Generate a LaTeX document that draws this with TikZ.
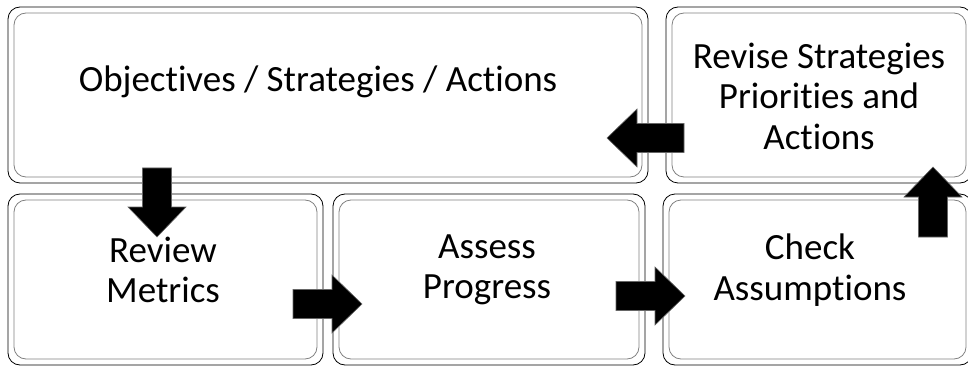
\documentclass[tikz,border=0pt]{standalone}
\usepackage{fontspec}
\setmainfont{Carlito}[Ligatures=NoCommon]

\tikzset{
  stage/.style={draw, line width=0.8pt, rounded corners=12pt, outer sep=0pt, inner sep=0pt,
    path picture={\draw[gray, line width=0.8pt]
      ([xshift=6pt,yshift=-6pt]path picture bounding box.north west) rectangle
      ([xshift=-6pt,yshift=6pt]path picture bounding box.south east);}},
  stagetext/.style={font=\fontsize{37}{40.5}\selectfont, align=center, inner sep=0pt},
  pics/fatarrow/.style={code={
    \fill[black, draw=black!60, line width=0.6pt]
      (0,-14.5) -- ({#1-30},-14.5) -- ({#1-30},-29) -- (#1,0) --
      ({#1-30},29) -- ({#1-30},14.5) -- (0,14.5) -- cycle;}},
}

\begin{document}
\begin{tikzpicture}[x=1pt, y=-1pt]
    \useasboundingbox (0,0) rectangle (968,366);
    \clip (0,0) rectangle (968,366);

    % 1. BOXES
    \node[stage, minimum width=640pt, minimum height=176pt] (objectives) at (328,95) {};
    \node[stage, minimum width=306pt, minimum height=176pt] (revise) at (819,95) {};
    \node[stage, minimum width=315pt, minimum height=171pt] (review) at (165.5,279.5) {};
    \node[stage, minimum width=312pt, minimum height=171pt] (assess) at (489,279.5) {};
    \node[stage, minimum width=309pt, minimum height=171pt] (check) at (817.5,279.5) {};

    % 2. TEXTS
    \node[stagetext] (objtext) at (318,82) {Objectives / Strategies / Actions};
    \node[stagetext] (revtext) at (819,96) {Revise Strategies\\Priorities and\\Actions};
    \node[stagetext] (metrictext) at (163,270) {Review\\Metrics};
    \node[stagetext] (progtext) at (487,270) {Assess\\Progress};
    \node[stagetext] (assumtext) at (810,270) {Check\\Assumptions};

    % 3. BLOCK ARROWS
    \pic[rotate=-90] at (157,168) {fatarrow=69};
    \pic at (293,304) {fatarrow=69};
    \pic at (616,296) {fatarrow=69};
    \pic[rotate=90] at (933,237) {fatarrow=70};
    \pic[rotate=180] at (684,138) {fatarrow=77};

\end{tikzpicture}
\end{document}
